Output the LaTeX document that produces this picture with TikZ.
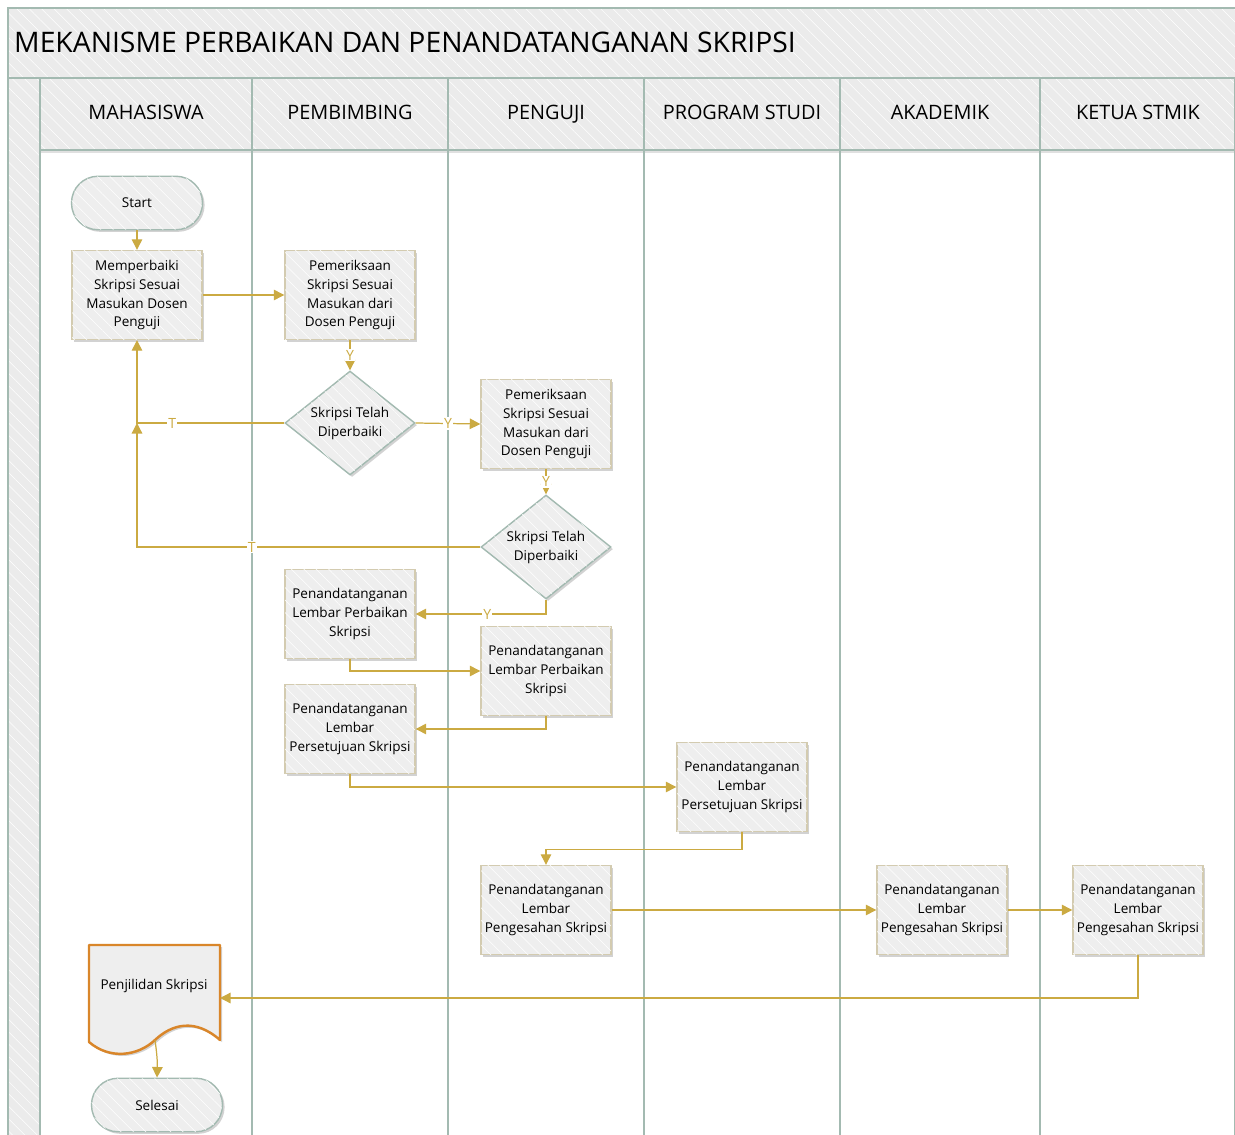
\documentclass[tikz,border=0pt]{standalone}
\usepackage{fontspec}
\setmainfont{Open Sans}
\usetikzlibrary{arrows.meta,shapes.geometric,shadows,patterns.meta}

\definecolor{laneline}{HTML}{A3BAB1}
\definecolor{headfill}{HTML}{EBEBEB}
\definecolor{boxfill}{HTML}{EEEEEE}
\definecolor{boxline}{HTML}{D3CBB0}
\definecolor{flow}{HTML}{CBAA42}
\definecolor{docline}{HTML}{D9862A}

\tikzset{
  hatch/.style={postaction={pattern={Lines[angle=-45,distance=5pt,line width=.3pt]}, pattern color=white, fill opacity=.55}},
  boxshadow/.style={drop shadow={shadow xshift=1.2pt, shadow yshift=-1.2pt, fill=black!35, opacity=.5}},
  txt/.style={font=\fontsize{7.7}{10.8}\selectfont, align=center},
  proc/.style={txt, draw=boxline, fill=boxfill, line width=.8pt, inner sep=1pt,
    minimum width=2.6cm, minimum height=1.78cm, boxshadow, hatch},
  decide/.style={txt, diamond, aspect=1.25, draw=laneline, fill=boxfill, line width=.8pt, inner sep=0pt,
    minimum width=2.6cm, minimum height=2.08cm, boxshadow, hatch},
  term/.style={txt, draw=laneline, fill=boxfill, line width=.8pt, rounded corners=.53cm,
    minimum width=2.62cm, minimum height=1.07cm, boxshadow, hatch},
  flowline/.style={draw=flow, line width=.7pt, -{Triangle[length=6pt,width=6pt]}},
  yt/.style={fill=white, text=flow, inner sep=.6pt, font=\fontsize{8}{9}\selectfont},
  lanehead/.style={font=\fontsize{11.3}{13}\selectfont, text height=1.6ex, text depth=.3ex},
}

\begin{document}
\begin{tikzpicture}[x=0.02cm, y=-0.02cm]
  \useasboundingbox (0,0) rectangle (1235,1135);

  % Pool
  \fill[headfill, hatch] (8,8) rectangle (1235,78);
  \fill[headfill, hatch] (8,78) rectangle (40,1135);
  \fill[headfill, hatch] (40,78) rectangle (1235,150);
  \node[anchor=west, font=\fontsize{16.1}{18}\selectfont] (title) at (8,42) {MEKANISME PERBAIKAN DAN PENANDATANGANAN SKRIPSI};

  \draw[laneline, line width=.8pt] (1235,8) -- (8,8) -- (8,1135);
  \draw[laneline, line width=.8pt] (8,78) -- (1235,78);
  \draw[black!12, line width=1.5pt] (40,152) -- (1235,152);
  \draw[laneline, line width=.8pt] (40,150) -- (1235,150);
  \draw[laneline, line width=.8pt] (40,78) -- (40,1135);

  % Lanes
  \foreach \x/\mid/\name in {252/146/MAHASISWA, 448/350/PEMBIMBING, 644/546/PENGUJI,
                             840/742/PROGRAM STUDI, 1040/940/AKADEMIK, 1235/1138/KETUA STMIK} {
    \draw[laneline, line width=.8pt] (\x,78) -- (\x,1135);
    \node[lanehead] at (\mid,113) {\name};
  }

  % Steps
  \node[term] (start) at (137,203) {Start};
  \node[proc] (fix) at (137,295) {Memperbaiki\\Skripsi Sesuai\\Masukan Dosen\\Penguji};
  \node[proc] (cekpb) at (350,295) {Pemeriksaan\\Skripsi Sesuai\\Masukan dari\\Dosen Penguji};
  \node[decide] (okpb) at (350,423) {Skripsi Telah\\Diperbaiki};
  \node[proc] (cekpg) at (546,424) {Pemeriksaan\\Skripsi Sesuai\\Masukan dari\\Dosen Penguji};
  \node[decide] (okpg) at (546,547) {Skripsi Telah\\Diperbaiki};
  \node[proc] (perbpb) at (350,614) {Penandatanganan\\Lembar Perbaikan\\Skripsi};
  \node[proc] (perbpg) at (546,671) {Penandatanganan\\Lembar Perbaikan\\Skripsi};
  \node[proc] (setpb) at (350,729) {Penandatanganan\\Lembar\\Persetujuan Skripsi};
  \node[proc] (setps) at (742,787) {Penandatanganan\\Lembar\\Persetujuan Skripsi};
  \node[proc] (sahpg) at (546,910) {Penandatanganan\\Lembar\\Pengesahan Skripsi};
  \node[proc] (sahak) at (942,910) {Penandatanganan\\Lembar\\Pengesahan Skripsi};
  \node[proc] (sahkt) at (1138,910) {Penandatanganan\\Lembar\\Pengesahan Skripsi};

  % Document
  \draw[docline, fill=boxfill, line width=1.4pt, line join=round, boxshadow]
    (89,945) -- (220,945) -- (220,1040) .. controls (195,1018) and (172,1024) .. (155,1040)
    .. controls (138,1056) and (110,1060) .. (89,1042) -- cycle;
  \node[txt] (jilid) at (154,986) {Penjilidan Skripsi};
  \coordinate (jilidin) at (220,998);
  \coordinate (jilidout) at (155,1040);
  \node[term] (end) at (157,1105) {Selesai};

  % Flow
  \draw[flowline] (start) -- (fix);
  \draw[flowline] (fix) -- (cekpb);
  \draw[flowline] (cekpb) -- node[yt] {Y} (okpb);
  \draw[flowline] (okpb.west) -| node[yt, pos=.38] {T} (fix.south);
  \draw[flowline] (okpb.east) -- node[yt] {Y} (cekpg.west);
  \draw[flowline] (cekpg) -- node[yt] {Y} (okpg);
  \coordinate (tjoin) at (137,423);
  \draw[flowline] (okpg.west) -| node[yt, pos=.333] {T} (tjoin);
  \draw[flowline] (okpg.south) |- node[yt, pos=.725] {Y} (perbpb.east);
  \draw[flowline] (perbpb.south) |- (perbpg.west);
  \draw[flowline] (perbpg.south) |- (setpb.east);
  \draw[flowline] (setpb.south) |- (setps.west);
  \draw[flowline] (setps.south) -- ++(0,17) -| (sahpg.north);
  \draw[flowline] (sahpg) -- (sahak);
  \draw[flowline] (sahak) -- (sahkt);
  \draw[flowline] (sahkt.south) |- (jilidin);
  \draw[flowline] (jilidout) to[bend left=5] (end.north);

\end{tikzpicture}
\end{document}
